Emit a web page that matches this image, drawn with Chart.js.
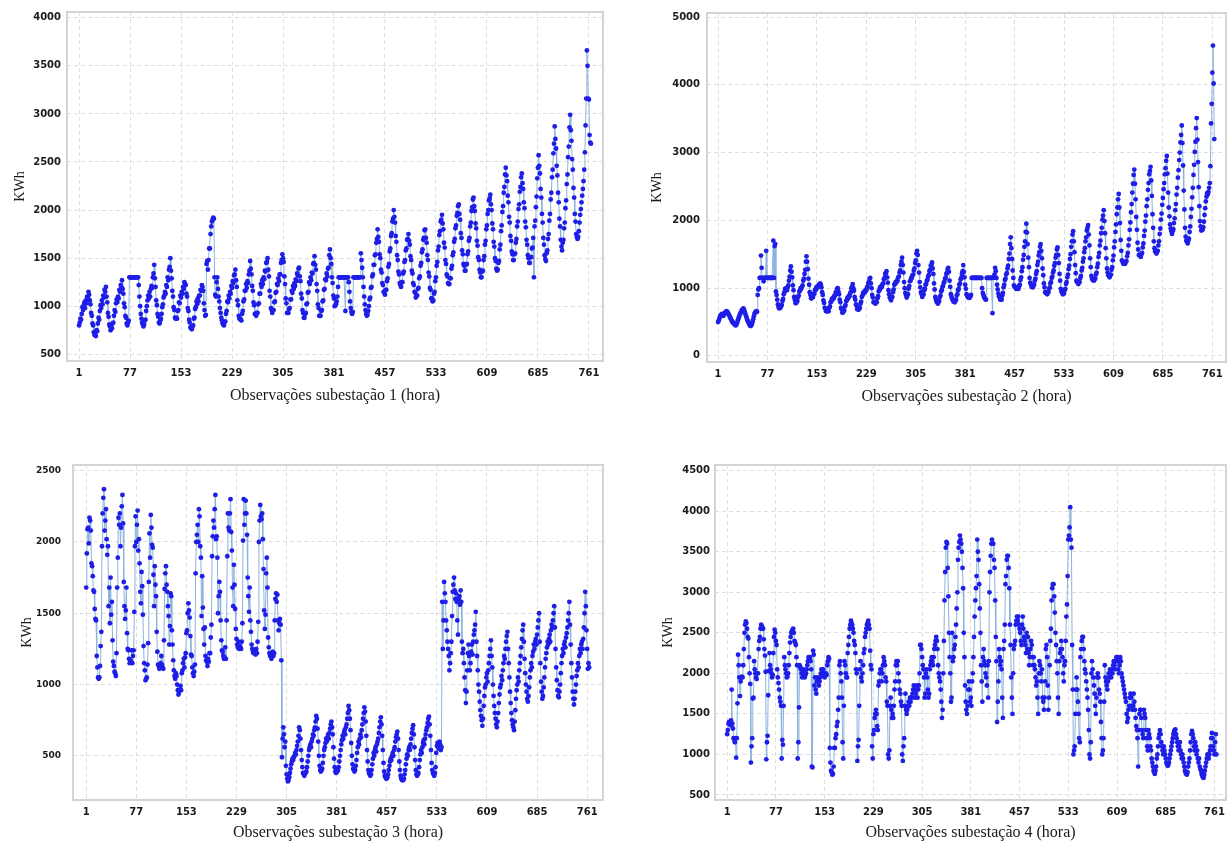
<!DOCTYPE html>
<html>
<head>
<meta charset="utf-8">
<script src="https://cdn.jsdelivr.net/npm/chart.js@4.4.0/dist/chart.umd.min.js"></script>
<style>
    body { margin: 0; background: #ffffff; width: 1232px; height: 845px; position: relative; overflow: hidden; }
    canvas { position: absolute; }
</style>
</head>
<body>
<canvas id="chart-sub1" width="616" height="422" style="left:0px;top:0px"></canvas>
<canvas id="chart-sub2" width="602" height="422" style="left:630px;top:0px"></canvas>
<canvas id="chart-sub3" width="616" height="415" style="left:0px;top:430px"></canvas>
<canvas id="chart-sub4" width="602" height="415" style="left:630px;top:430px"></canvas>
<script>
// tick labels
var obsTicks = [1, 77, 153, 229, 305, 381, 457, 533, 609, 685, 761];
var yTicks1 = [500, 1000, 1500, 2000, 2500, 3000, 3500, 4000];
var yTicks2 = [0, 1000, 2000, 3000, 4000, 5000];
var yTicks3 = [500, 1000, 1500, 2000, 2500];
var yTicks4 = [500, 1000, 1500, 2000, 2500, 3000, 3500, 4000, 4500];

// KWh per hour, subestacao 1
var kwhSub1 = [
    800,830,870,860,920,990,960,1010,1040,980,1060,1030,1100,1080,1150,1120,1060,1020,930,900,820,800,730,700,
    720,690,750,740,820,880,860,950,1010,980,1060,1020,1110,1090,1170,1150,1200,1100,1040,930,890,810,790,750,
    780,770,820,830,900,960,940,1030,1070,1040,1100,1080,1170,1150,1220,1200,1270,1180,1130,1030,990,900,880,820,
    800,830,850,1300,1300,1300,1300,1300,1300,1300,1300,1300,1300,1300,1300,1300,1300,1220,1100,1000,920,870,830,810,
    790,810,850,860,950,1000,1060,1110,1080,1150,1100,1180,1210,1190,1300,1340,1430,1290,1200,1060,1010,920,890,830,
    820,850,870,920,990,1020,1090,1110,1150,1130,1220,1200,1300,1270,1380,1410,1500,1370,1290,1160,1100,990,960,880,
    870,880,870,950,960,1040,1030,1110,1090,1150,1130,1200,1180,1250,1230,1220,1130,1100,980,950,860,830,780,770,
    760,790,800,870,880,970,990,1050,1020,1080,1050,1110,1110,1170,1160,1220,1200,1160,1030,960,900,910,1440,1470,
    1380,1480,1600,1600,1750,1830,1880,1900,1920,1910,1300,1120,1100,1250,1300,1180,1100,1050,980,930,880,850,820,810,
    800,840,840,920,950,1050,1040,1110,1080,1150,1130,1210,1190,1260,1240,1320,1330,1380,1270,1200,1060,1010,900,870,
    870,860,850,920,950,1050,1070,1160,1160,1230,1190,1260,1240,1330,1370,1470,1390,1330,1210,1160,1040,1010,920,920,
    900,930,930,1020,1030,1130,1130,1230,1200,1270,1230,1300,1280,1370,1360,1450,1460,1500,1380,1310,1160,1100,980,960,
    930,960,960,1040,1050,1140,1150,1230,1220,1290,1260,1330,1330,1450,1480,1540,1500,1460,1310,1230,1080,1030,930,930,
    930,970,980,1070,1070,1160,1140,1210,1180,1240,1210,1280,1260,1340,1320,1390,1400,1310,1260,1130,1080,960,930,880,
    880,920,930,1020,1030,1140,1150,1250,1230,1300,1270,1350,1340,1440,1450,1520,1430,1380,1230,1160,1020,980,900,900,
    900,950,960,1050,1060,1170,1180,1280,1270,1340,1310,1390,1400,1530,1590,1500,1440,1300,1240,1110,1080,1000,1010,1020,
    1050,1100,1200,1300,1300,1300,1300,1300,1300,1300,1300,1300,1300,950,1300,1300,1300,1300,1250,1150,1050,980,940,920,
    940,1300,1300,1300,1300,1300,1300,1300,1300,1300,1300,1300,1550,1480,1400,1300,1200,1100,1020,960,920,900,910,950,
    1000,1070,1090,1190,1200,1310,1330,1430,1430,1530,1540,1660,1700,1800,1720,1670,1540,1500,1380,1350,1240,1220,1150,1140,
    1120,1170,1170,1260,1290,1410,1440,1570,1600,1730,1760,1880,1910,2000,1930,1870,1730,1670,1530,1480,1360,1330,1240,1220,
    1200,1250,1250,1340,1360,1460,1480,1580,1600,1690,1700,1750,1680,1640,1520,1480,1370,1340,1240,1220,1150,1140,1090,1110,
    1110,1180,1190,1290,1310,1420,1450,1560,1590,1690,1710,1790,1800,1710,1660,1530,1480,1350,1310,1190,1170,1080,1080,1050,
    1060,1130,1150,1260,1300,1420,1460,1580,1620,1740,1780,1880,1900,1950,1860,1800,1660,1610,1480,1440,1330,1310,1240,1230,
    1230,1290,1290,1390,1420,1530,1560,1670,1700,1810,1840,1940,1970,2040,2060,1960,1900,1760,1710,1580,1540,1440,1420,1370,
    1370,1430,1440,1540,1570,1680,1710,1830,1870,1990,2030,2110,2130,2040,1990,1860,1810,1680,1630,1510,1480,1380,1350,1300,
    1300,1360,1370,1480,1520,1640,1680,1800,1840,1960,2000,2100,2120,2160,2060,2000,1860,1800,1670,1620,1500,1470,1390,1370,
    1380,1450,1470,1590,1640,1780,1840,1980,2040,2180,2240,2370,2440,2360,2300,2150,2080,1930,1870,1730,1680,1570,1540,1480,
    1480,1540,1550,1660,1700,1830,1880,2010,2060,2190,2240,2340,2380,2280,2220,2080,2020,1880,1820,1690,1640,1530,1500,1450,
    1450,1510,1510,1600,1610,1710,1300,1830,1890,2030,2140,2330,2440,2570,2460,2380,2220,2130,1960,1870,1710,1640,1530,1490,
    1470,1550,1580,1700,1750,1890,1960,2110,2180,2340,2420,2590,2690,2870,2740,2640,2460,2360,2180,2080,1910,1830,1690,1620,
    1580,1660,1690,1810,1870,2020,2100,2270,2370,2550,2660,2860,2990,2830,2720,2530,2420,2230,2130,1960,1880,1750,1720,1700,
    1720,1780,1870,1950,2010,2080,2150,2220,2300,2420,2600,2880,3160,3660,3500,3160,3150,2780,2700,2690
];

// KWh per hour, subestacao 2
var kwhSub2 = [
    500,520,550,580,600,610,620,600,590,610,630,640,650,660,650,640,620,600,580,560,540,520,500,490,
    480,470,460,450,460,480,510,540,570,600,620,640,660,680,690,700,680,650,620,590,560,530,510,490,
    470,450,440,450,470,500,540,580,620,640,650,660,650,900,980,1000,1150,1150,1480,1300,1150,1150,1100,1150,
    1150,1150,1550,1150,1150,1150,1150,1150,1150,1150,1150,1150,1150,1700,1150,1620,1650,950,900,830,760,720,700,720,
    710,740,750,810,840,910,940,990,990,1000,970,1010,1040,1110,1170,1260,1320,1240,1160,1040,970,870,830,780,
    780,800,810,870,890,950,960,1000,990,1020,1040,1110,1140,1210,1270,1390,1470,1390,1280,1140,1050,940,900,850,
    850,870,870,910,920,970,970,1010,1000,1030,1020,1050,1040,1070,1050,1010,940,900,820,780,710,700,660,660,
    660,660,660,710,730,790,800,840,830,860,850,890,890,940,940,990,1000,950,910,830,790,710,690,640,
    640,660,670,730,750,810,820,860,850,880,880,920,940,1000,1020,1060,1000,960,870,830,760,740,690,690,
    680,700,710,770,800,870,890,930,920,950,940,970,970,1010,1020,1070,1090,1140,1150,1070,1000,900,860,790,
    790,790,770,800,790,850,880,950,970,1010,1000,1030,1020,1060,1070,1130,1150,1210,1220,1250,1160,1080,970,910,
    860,850,820,860,870,940,980,1050,1060,1090,1080,1110,1110,1160,1170,1230,1260,1340,1390,1450,1340,1230,1090,1000,
    930,900,860,890,910,990,1030,1100,1110,1150,1150,1190,1200,1260,1290,1370,1410,1510,1550,1490,1340,1230,1090,1010,
    940,910,870,900,910,970,990,1050,1060,1110,1120,1170,1190,1250,1270,1330,1340,1380,1290,1210,1070,980,870,830,
    800,800,770,800,810,870,890,950,970,1020,1030,1080,1090,1140,1150,1210,1230,1280,1300,1240,1110,1020,910,870,
    840,830,800,810,790,820,830,890,910,970,990,1050,1070,1130,1150,1210,1250,1340,1240,1160,1050,990,910,890,
    870,860,855,860,880,900,1150,1150,1150,1150,1150,1150,1150,1150,1150,1150,1150,1150,1150,1150,1150,1150,1000,930,
    900,870,850,840,830,1150,1150,1150,1150,1150,1150,1150,1150,1150,630,1150,1150,1200,1300,1250,1150,1050,980,920,
    880,860,830,840,830,890,930,1010,1050,1120,1140,1200,1220,1290,1330,1430,1510,1650,1750,1590,1430,1260,1150,1040,
    1020,1020,990,1000,990,1010,990,1030,1050,1120,1160,1250,1310,1420,1490,1610,1690,1830,1950,1820,1650,1450,1310,1150,
    1080,1060,1020,1030,1010,1040,1050,1110,1140,1210,1250,1340,1390,1480,1530,1610,1650,1550,1440,1290,1190,1070,1010,940,
    930,930,910,940,940,990,1010,1070,1090,1150,1170,1230,1260,1330,1370,1450,1490,1570,1600,1490,1370,1210,1110,990,
    950,940,910,930,920,970,990,1060,1090,1160,1200,1280,1330,1430,1500,1610,1690,1790,1840,1690,1530,1340,1220,1110,
    1090,1090,1060,1090,1090,1150,1180,1260,1300,1390,1440,1530,1590,1690,1750,1850,1890,1930,1790,1630,1440,1310,1180,1140,
    1120,1130,1110,1140,1140,1200,1230,1310,1360,1460,1520,1630,1700,1810,1890,2010,2070,2150,1990,1810,1590,1440,1290,1230,
    1190,1190,1160,1190,1200,1270,1310,1410,1480,1600,1690,1830,1940,2090,2190,2310,2390,2190,1960,1710,1550,1410,1390,1360,
    1370,1380,1360,1390,1400,1470,1520,1630,1720,1860,1970,2120,2240,2410,2540,2670,2750,2540,2310,2050,1860,1670,1570,1490,
    1480,1480,1460,1500,1520,1600,1660,1770,1850,1980,2070,2210,2310,2450,2550,2680,2730,2790,2590,2360,2090,1890,1690,1590,
    1540,1540,1510,1540,1550,1630,1690,1800,1880,2010,2100,2230,2330,2460,2550,2680,2770,2880,2950,2690,2410,2190,2060,1940,
    1880,1840,1800,1840,1870,1960,2030,2150,2240,2380,2480,2630,2740,2890,3000,3150,3260,3400,3140,2810,2440,2160,1890,1760,
    1700,1690,1660,1700,1730,1830,1910,2050,2170,2340,2480,2670,2820,3010,3160,3360,3510,3190,2860,2490,2210,1990,1910,1850,
    1870,1860,1900,1980,2080,2180,2280,2350,2400,2380,2420,2480,2550,2800,3430,3720,4180,4580,4020,3200
];

// KWh per hour, subestacao 3
var kwhSub3 = [
    1680,1920,2090,2100,1990,2170,2150,2080,1850,1830,1760,1660,1650,1530,1460,1450,1200,1120,1050,1040,
    1050,1130,1270,1370,1970,2200,2310,2370,2080,2150,2230,2020,1910,1970,1550,1680,1430,1750,1490,1580,1310,1160,1130,1090,1080,1060,
    1220,1680,1890,2170,2120,2200,1970,2100,2250,2330,2130,1720,1550,1460,1520,1680,1360,1250,1240,1180,1150,1170,1160,1240,1150,
    1200,1240,1510,1970,2180,2000,2120,2220,1940,2020,1850,1650,1570,1790,1690,1490,1270,1150,1100,1030,1040,1050,
    1140,1290,1720,2060,1890,2190,2100,1980,1960,1770,1550,1830,1700,1620,1370,1230,1140,1130,1110,1120,1150,1200,1140,1120,1110,
    1310,1670,1780,1830,1700,1650,1550,1480,1280,1410,1640,1620,1380,1280,1170,1100,1060,1040,1080,1060,1000,960,930,950,960,990,960,
    1080,1100,1150,1180,1120,1190,1220,1360,1380,1500,1570,1520,1470,1340,1210,1200,1120,1080,1060,1090,
    1140,1780,2000,2050,2120,2000,2230,2180,1970,1890,1480,1760,1540,1390,1280,1400,1200,1170,1160,1130,1180,1160,1220,
    1220,1330,1420,1900,2040,2150,2100,2230,2330,2020,2040,1890,1500,1620,1720,1650,1450,1310,1240,1230,1200,1180,1190,1260,1180,
    1450,1900,2200,2100,2080,2200,2300,2070,1940,1680,1550,1840,1700,1530,1390,1320,1280,1260,1300,1250,1270,1260,1250,
    1300,1430,2010,2300,2120,2200,2290,2200,2050,1750,1620,1510,1680,1450,1370,1280,1250,1230,1220,1240,1230,1210,1250,1220,
    1300,1440,2000,2150,2260,2180,2160,2200,2020,1810,1520,1390,1490,1780,1890,1680,1330,1260,1220,1200,1220,1180,1200,1230,1200,
    1220,1450,1600,1640,1580,1630,1450,1380,1430,1460,1420,1170,
    490,620,700,650,560,600,430,370,340,
    320,330,350,380,410,440,460,480,470,490,500,520,510,540,570,600,640,700,680,620,540,470,420,380,370,
    360,380,380,390,420,460,500,540,560,580,560,600,620,650,640,680,700,740,780,760,690,600,500,430,400,
    390,400,410,450,500,540,560,590,620,600,630,650,620,660,690,720,740,700,650,560,480,420,390,380,400,390,
    400,420,460,500,540,580,610,640,620,660,680,650,700,720,760,800,850,820,760,680,590,500,440,410,400,
    390,400,430,470,520,560,600,580,620,650,630,680,720,760,800,840,810,740,640,540,460,400,380,370,
    360,370,400,440,480,520,500,540,560,530,580,600,620,660,700,740,770,720,640,540,450,390,360,350,340,
    340,350,370,400,430,460,480,470,500,520,500,540,560,600,630,650,670,620,540,460,400,360,340,330,330,
    330,340,370,400,440,480,510,500,540,560,540,580,620,660,690,715,650,560,470,400,370,360,
    370,380,420,470,510,540,520,560,590,610,580,620,650,680,700,730,760,775,720,640,540,450,400,380,370,360,
    380,420,520,570,590,560,550,600,580,540,560,
    1580,1250,1450,1720,1640,1580,1450,1380,1300,1250,1200,1100,
    1150,1220,1300,1480,1650,1700,1750,1660,1600,1640,1580,1450,1350,1600,1620,1560,1660,1580,1300,1220,1250,1150,1050,960,
    870,950,1100,1220,1280,1200,1100,1150,1230,1280,1210,1300,1350,1380,1420,1510,1300,1200,1100,1000,950,880,820,780,
    750,710,760,850,920,980,1000,1050,1080,1020,1100,1150,1200,1250,1310,1200,1120,1000,920,850,800,760,720,700,
    740,800,870,930,980,1000,1060,1030,1100,1150,1200,1180,1250,1300,1340,1370,1250,1150,1050,950,870,800,750,720,
    700,680,740,820,900,960,1000,1050,1020,1100,1150,1200,1260,1320,1380,1420,1300,1180,1080,1000,950,900,880,920,
    980,1050,1100,1150,1120,1200,1230,1280,1250,1300,1320,1280,1350,1400,1450,1500,1300,1150,1020,950,900,920,980,1050,
    1120,1180,1220,1260,1300,1280,1320,1350,1300,1380,1420,1400,1450,1500,1550,1400,1250,1120,1030,960,920,910,950,1000,
    1080,1150,1200,1250,1220,1280,1300,1260,1330,1360,1400,1450,1500,1580,1420,1280,1150,1050,950,900,860,900,950,1000,
    1060,1100,1150,1120,1200,1250,1220,1280,1300,1250,1320,1400,1500,1650,1550,1380,1250,1110,1150,1120
];

// KWh per hour, subestacao 4
var kwhSub4 = [
    1250,1300,1380,1400,1380,1360,1420,1800,1380,1320,1200,1180,1150,1200,960,1200,1630,2230,2100,1950,1720,1900,1950,1960,
    1950,2100,2300,2500,2600,2640,2620,2550,2450,2430,2200,2000,1870,900,1100,1200,1690,1700,2150,2050,2000,1950,1930,2000,
    2000,2300,2400,2450,2550,2600,2580,2560,2550,2420,2300,2220,2020,940,1150,1230,1730,2030,2250,2100,2050,2000,1950,1980,
    2250,2450,2540,2500,2400,2350,2050,1950,1880,1800,1700,1650,1600,950,1180,1120,1600,2200,2100,2050,2000,1950,1960,2000,
    2100,2250,2380,2450,2500,2520,2540,2550,2500,2400,2380,2350,2200,2100,950,1150,1580,2100,2080,2050,2000,1950,2000,2050,
    2000,1950,1980,2000,2050,2100,2150,2200,2180,2200,2150,2050,850,840,2280,2230,1850,1950,1800,1750,1900,1950,1900,1850,
    1900,1950,2000,2050,2000,1980,2050,2000,1950,1980,2000,1980,2100,2150,2200,2180,1080,900,800,780,750,760,850,1080,
    1080,1200,1250,1350,1400,1550,1700,2100,2150,2000,1900,1700,1150,950,1600,2150,2100,2000,1950,1950,2250,2350,2450,2550,
    2600,2650,2620,2600,2550,2500,2400,2350,2250,2050,2000,920,1100,1180,1600,2050,2150,1950,1900,2000,2100,2250,2300,2450,
    2500,2550,2600,2620,2650,2600,2550,2280,2100,2050,1100,950,1250,1300,1450,1500,1550,1500,1350,1300,1850,1900,2000,2050,
    2050,1900,2000,2100,2200,2150,2100,1950,1900,1650,1600,1000,950,1050,1600,1700,1550,1450,1500,1450,1600,1800,1900,2100,
    2150,2100,2150,2000,1900,1800,1750,1650,1600,1000,920,1100,1200,1600,1750,1550,1500,1550,1600,1650,1600,1700,1650,1700,
    1700,1750,1800,1850,1800,1700,1750,1800,1850,1700,1800,1850,2000,2350,2350,2300,2200,2100,2050,1950,1700,1750,2000,2050,
    1950,1800,1700,1750,2050,2100,2150,2200,2150,2100,2200,2300,2350,2400,2450,2400,2300,2100,2000,1950,1900,1800,1650,1450,
    1550,2000,2400,2900,3250,3550,3620,3600,3300,2950,2500,2200,2000,1650,1700,2500,2150,2200,2300,2350,2450,2600,2800,3000,
    3400,3550,3620,3700,3650,3600,3500,3300,3050,2500,2200,1850,1650,1550,1500,1600,1800,1900,1800,1650,1700,1600,1900,2000,
    2200,2450,2700,2900,3050,3200,3650,3500,3400,3100,2800,2500,2100,1900,1650,2200,2300,2150,2100,2000,1950,1850,2100,1700,
    2150,3000,3250,3450,3600,3650,3600,3600,3400,3300,2900,2450,2150,1400,1650,1900,2300,2200,2100,2150,2050,1700,1450,2300,
    2400,2600,3100,3200,3400,3450,3450,3300,3050,2600,2350,1950,1700,1500,2000,2300,2350,2400,2600,2650,2700,2650,2700,2600,
    2550,2500,2400,2350,2600,2700,2550,2450,2400,2350,2250,2500,2300,2450,2250,2100,2200,2300,2400,2350,2200,2100,2200,2100,
    2050,1950,1850,1900,1700,1500,2000,2150,2100,2000,1900,2050,1700,1650,1550,1700,1900,2300,2350,2200,1850,1550,1700,2100,
    2400,2550,2900,3050,3100,3100,2950,2750,2500,2350,2150,2000,1700,1500,2150,2250,2300,2400,2300,2200,2000,1900,2100,2150,
    2400,2700,2850,3200,3650,3700,3800,4050,3650,3550,2350,1800,1000,1050,1100,1500,1800,1950,1800,1650,1500,1200,1150,2200,
    2300,2400,2450,2450,2300,2150,2050,2000,1900,1800,1700,1550,1300,1000,950,1150,2000,2150,2050,1950,1850,1750,1600,1500,
    1700,1950,2000,1950,1800,1750,1650,1400,1200,1000,1050,1200,1650,2100,1950,1900,1850,1800,1900,2000,1950,2050,2000,1950,
    2050,2000,2100,2150,2100,2050,2150,2200,2200,2150,2050,2000,2100,2200,2150,2000,1950,1900,1850,1800,1750,1700,1650,1500,
    1400,1450,1550,1600,1700,1750,1700,1600,1550,1600,1750,1650,1550,1450,1350,1300,1200,850,1300,1500,1550,1550,1450,1300,
    1250,1200,1550,1500,1450,1300,1200,1100,1050,1300,1250,1200,1100,1050,950,900,850,800,780,760,800,850,950,1000,
    1100,1200,1250,1300,1250,1150,1100,1050,1000,1100,1050,1000,950,900,880,860,870,900,950,1000,1050,1100,1150,1200,
    1250,1280,1300,1310,1250,1200,1150,1100,1050,1100,1150,1050,1000,950,1000,950,900,850,800,770,760,750,780,850,
    900,950,1050,1150,1250,1290,1250,1200,1100,1050,1150,1100,1000,1050,950,900,950,850,820,800,760,740,720,710,
    750,800,850,900,950,1000,980,950,1000,1050,1100,1200,1265,1200,1100,1050,1000,1150,1250,1000
];

Chart.defaults.font.family = "'DejaVu Sans', sans-serif";
Chart.defaults.font.size = 10;
Chart.defaults.color = "#1a1a1a";

// light grey box round the plot area
var frame = {
    id: "frame",
    afterDraw: function (chart) {
        var a = chart.chartArea;
        var c = chart.ctx;
        c.save();
        c.strokeStyle = "#d4d4d4";
        c.lineWidth = 2;
        c.strokeRect(a.left, a.top, a.right - a.left, a.bottom - a.top);
        c.restore();
    }
};

function drawSub(id, values, yTicks, o) {
    var ctx = document.getElementById(id).getContext("2d");
    return new Chart(ctx, {
        type: "line",
        data: {
            datasets: [
                {
                    data: values.map(function (v, i) { return { x: i + 1, y: v }; }),
                    borderColor: "#8cb2de",
                    borderWidth: 1,
                    pointRadius: 2.4,
                    pointBackgroundColor: "#1e1ee6",
                    pointBorderWidth: 0,
                    tension: 0
                }
            ]
        },
        options: {
            responsive: false,
            animation: false,
            events: [],
            layout: {
                padding: { top: o.top, right: o.right, left: 0, bottom: 0 }
            },
            plugins: {
                legend: { display: false },
                tooltip: { enabled: false }
            },
            scales: {
                x: {
                    type: "linear",
                    min: o.xMin,
                    max: o.xMax,
                    afterBuildTicks: function (s) {
                        s.ticks = obsTicks.map(function (v) { return { value: v }; });
                    },
                    afterFit: function (s) { s.height = o.xh; },
                    ticks: {
                        padding: 6,
                        autoSkip: false,
                        maxRotation: 0,
                        font: { weight: "bold" },
                        callback: function (v) { return String(v); }
                    },
                    grid: { color: "#dedede", drawTicks: false },
                    border: { display: false, dash: [4, 3] },
                    title: {
                        display: true,
                        text: o.xTitle,
                        font: { family: "'Liberation Serif', serif", size: 16 },
                        padding: { top: 0, bottom: o.xtPad }
                    }
                },
                y: {
                    min: o.yMin,
                    max: o.yMax,
                    afterBuildTicks: function (s) {
                        s.ticks = yTicks.map(function (v) { return { value: v }; });
                    },
                    afterFit: function (s) { s.width = o.yw; },
                    ticks: {
                        padding: o.yPad,
                        font: { size: o.yFont, weight: "bold" },
                        callback: function (v) { return String(v); }
                    },
                    grid: { color: "#dedede", drawTicks: false },
                    border: { display: false, dash: [4, 3] },
                    title: {
                        display: true,
                        text: "KWh",
                        font: { family: "'Liberation Serif', serif", size: 14 },
                        padding: { top: o.ytPad, bottom: 0 }
                    }
                }
            }
        },
        plugins: [frame]
    });
}

drawSub("chart-sub1", kwhSub1, yTicks1, {
    top: 10, right: 13, yw: 67, xh: 61, xMin: -17, xMax: 782, yMin: 430, yMax: 4060,
    yPad: 6, yFont: 10, ytPad: 12, xtPad: 17, xTitle: "Observações subestação 1 (hora)"
});
drawSub("chart-sub2", kwhSub2, yTicks2, {
    top: 13, right: 6, yw: 77, xh: 60, xMin: -16, xMax: 782, yMin: -90, yMax: 5060,
    yPad: 7, yFont: 10, ytPad: 19, xtPad: 16, xTitle: "Observações subestação 2 (hora)"
});
drawSub("chart-sub3", kwhSub3, yTicks3, {
    top: 35, right: 13, yw: 73, xh: 45, xMin: -19, xMax: 785, yMin: 190, yMax: 2540,
    yPad: 12, yFont: 9, ytPad: 19, xtPad: 3, xTitle: "Observações subestação 3 (hora)"
});
drawSub("chart-sub4", kwhSub4, yTicks4, {
    top: 35, right: 6, yw: 85, xh: 45, xMin: -18, xMax: 779, yMin: 438, yMax: 4570,
    yPad: 5, yFont: 10, ytPad: 30, xtPad: 3, xTitle: "Observações subestação 4 (hora)"
});
</script>
</body>
</html>
